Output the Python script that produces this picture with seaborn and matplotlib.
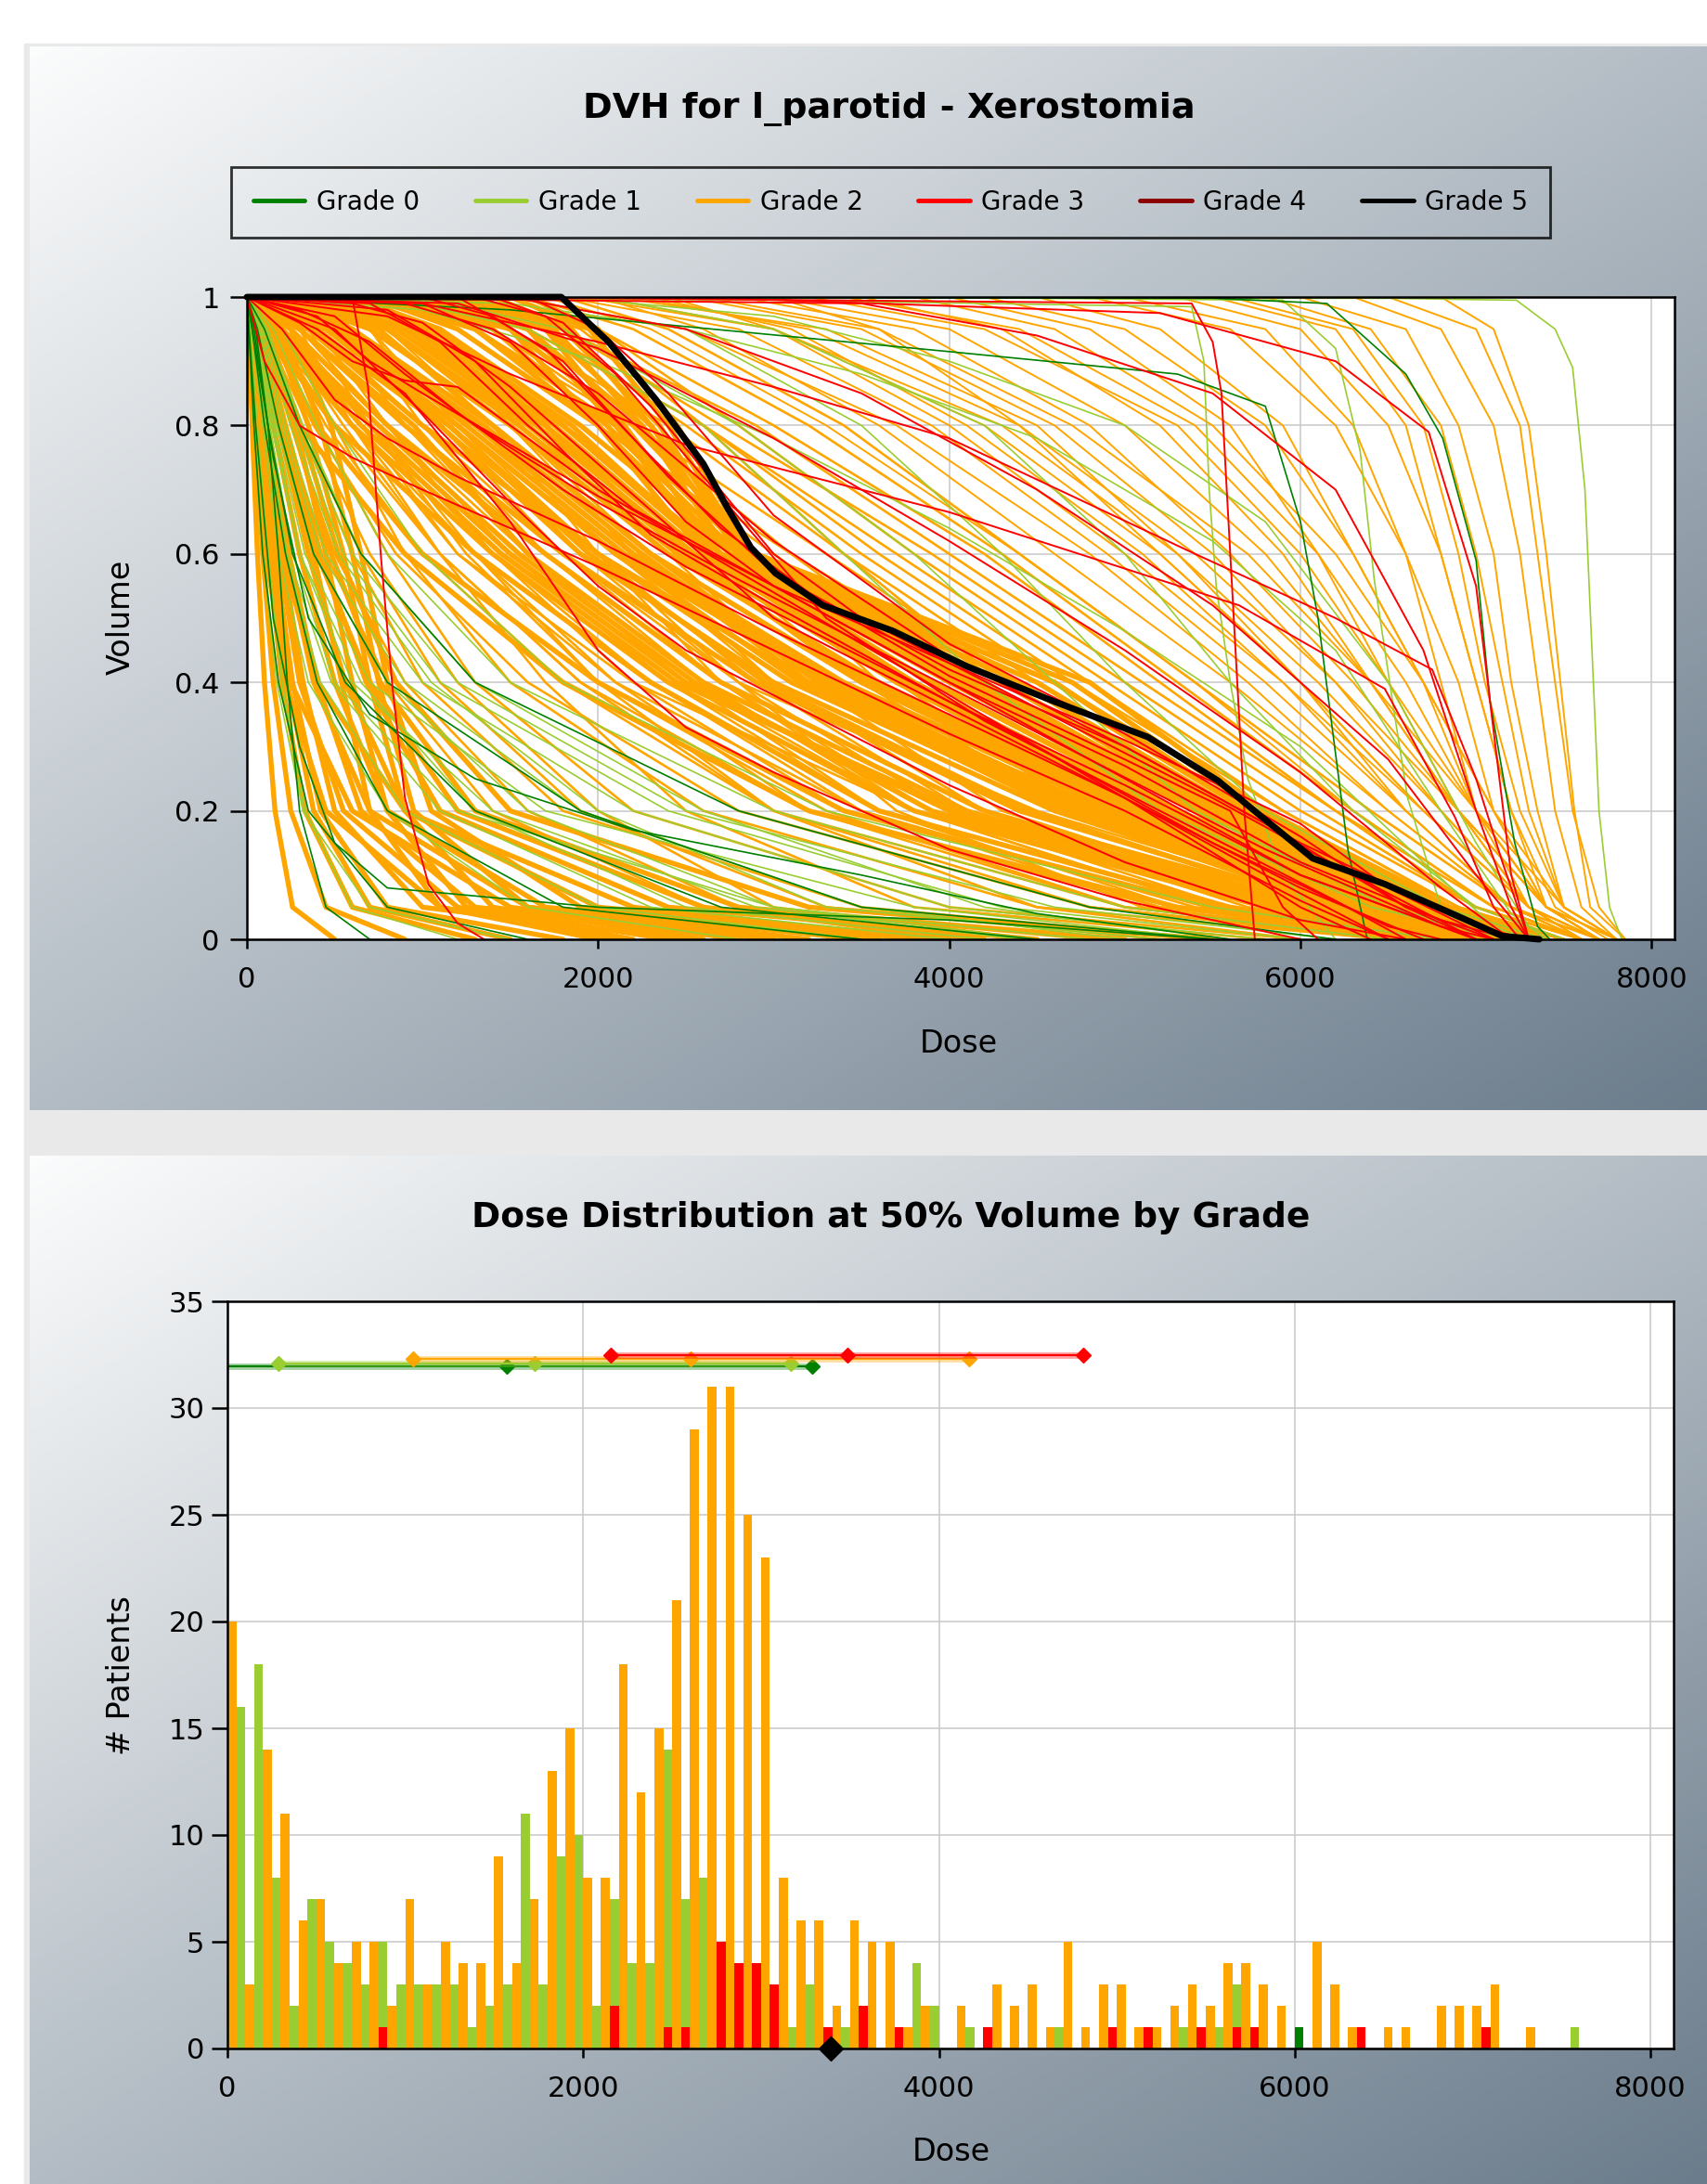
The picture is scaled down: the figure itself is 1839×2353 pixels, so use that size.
import numpy as np
import pandas as pd
import matplotlib
matplotlib.use('Agg')
import matplotlib.pyplot as plt
from matplotlib.lines import Line2D
from matplotlib.patches import Rectangle
from matplotlib.colors import LinearSegmentedColormap
import seaborn as sns

# ---------------- data ----------------
grades = ['Grade 0', 'Grade 1', 'Grade 2', 'Grade 3', 'Grade 4', 'Grade 5']
grade_colors = ['green', 'yellowgreen', 'orange', 'red', 'darkred', 'black']

# most DVH curves are read as the dose at which volume falls to these levels
LEVELS = [1.0, 0.95, 0.8, 0.6, 0.4, 0.2, 0.05, 0.0]

# grade 2: early steep curves and the packed band under the grade 5 curve
grade2_dense_rows = [
    [0, 10, 30, 60, 100, 160, 260, 500],
    [0, 15, 45, 90, 150, 250, 450, 900],
    [0, 20, 60, 120, 200, 330, 600, 1300],
    [0, 25, 80, 160, 260, 420, 800, 1800],
    [0, 30, 100, 200, 320, 500, 1000, 2500],
    [0, 40, 120, 240, 400, 650, 1300, 3000],
    [0, 50, 150, 300, 500, 800, 1700, 3500],
    [0, 20, 70, 140, 230, 380, 700, 1500],
    [0, 60, 180, 350, 560, 900, 2000, 4000],
    [0, 80, 220, 420, 680, 1100, 2400, 4500],
    [0, 100, 260, 480, 760, 1300, 2800, 5000],
    [0, 30, 90, 180, 300, 550, 1200, 2200],
    [0, 120, 300, 520, 850, 1500, 3200, 5500],
    [0, 15, 50, 110, 220, 450, 1100, 2000],
    [0, 40, 110, 220, 380, 700, 1600, 3000],
    [0, 60, 200, 400, 700, 1200, 2600, 4200],
    [0, 10, 40, 100, 250, 600, 1500, 2800],
    [0, 25, 90, 200, 400, 900, 2200, 3800],
    [0, 150, 350, 550, 700, 900, 1400, 2600],
    [0, 200, 420, 600, 750, 950, 1600, 3200],
    [0, 90, 280, 450, 600, 800, 1250, 2400],
    [0, 250, 480, 650, 800, 1050, 1900, 3600],
    [0, 50, 200, 380, 540, 700, 1100, 2100],
    [0, 200, 700, 1500, 2500, 4000, 6000, 7000],
    [0, 300, 900, 1800, 2900, 4400, 6200, 7100],
    [100, 500, 1200, 2100, 3300, 4800, 6400, 7200],
    [200, 700, 1500, 2400, 3600, 5100, 6500, 7200],
    [400, 900, 1700, 2600, 3900, 5300, 6600, 7300],
    [600, 1100, 1900, 2800, 4200, 5500, 6700, 7300],
    [800, 1300, 2100, 2850, 4500, 5700, 6800, 7300],
    [1000, 1500, 2200, 2900, 4700, 5750, 6800, 7400],
    [0, 400, 1100, 1900, 3000, 4600, 6300, 7100],
    [300, 800, 1600, 2500, 3700, 5200, 6500, 7200],
    [0, 250, 800, 1700, 2700, 4200, 6100, 7000],
    [500, 1000, 1800, 2700, 4000, 5400, 6600, 7300],
    [0, 150, 600, 1400, 2400, 3800, 5800, 6900],
    [200, 600, 1300, 2200, 3400, 5000, 6400, 7200],
    [700, 1200, 2000, 2750, 4300, 5600, 6700, 7300],
    [0, 350, 1000, 2000, 3100, 4700, 6300, 7100],
    [100, 450, 1150, 2000, 3200, 4900, 6450, 7150],
    [0, 100, 500, 1300, 2300, 3600, 5600, 6800],
    [300, 750, 1400, 2300, 3500, 5000, 6500, 7200],
    [900, 1400, 2050, 2800, 4400, 5650, 6750, 7350],
    [0, 300, 950, 1600, 2600, 4100, 6000, 7000],
    [400, 850, 1650, 2550, 3800, 5250, 6550, 7250],
    [0, 200, 750, 1550, 2550, 3900, 5900, 6950],
    [600, 1050, 1850, 2650, 4100, 5450, 6650, 7300],
    [0, 120, 400, 1000, 2000, 3400, 5500, 6800],
    [0, 60, 300, 900, 1800, 3200, 5300, 6700],
    [150, 550, 1250, 2150, 3350, 4950, 6350, 7150],
    [0, 180, 650, 1450, 2450, 4050, 6050, 7000],
    [0, 500, 1300, 2200, 3200, 4700, 6300, 7100],
    [300, 900, 1700, 2500, 3500, 5000, 6450, 7200],
    [0, 600, 1400, 2300, 3300, 4850, 6350, 7150],
    [500, 1100, 1800, 2650, 3900, 5300, 6600, 7250],
    [1100, 1600, 2250, 2850, 4600, 5700, 6800, 7350],
    [200, 800, 1550, 2450, 3550, 5050, 6450, 7200],
    [0, 450, 1200, 2100, 3150, 4650, 6250, 7100],
    [700, 1300, 2000, 2700, 4150, 5500, 6700, 7300],
    [1300, 1700, 2300, 2900, 4800, 5800, 6850, 7400],
    [0, 550, 1350, 2250, 3250, 4750, 6300, 7150],
    [0, 350, 1150, 1950, 2950, 4450, 6150, 7050],
    [250, 950, 1750, 2600, 3750, 5150, 6500, 7200],
    [1200, 1700, 2150, 2700, 3900, 5300, 6600, 7300],
    [1400, 1850, 2300, 2800, 4200, 5500, 6700, 7300],
    [1500, 1950, 2400, 2850, 4400, 5600, 6750, 7350],
    [1000, 1600, 2100, 2650, 3800, 5200, 6550, 7250],
    [1600, 2000, 2450, 2880, 4600, 5700, 6800, 7400],
    [800, 1500, 2000, 2600, 3700, 5100, 6500, 7250],
    [1100, 1750, 2250, 2750, 4050, 5400, 6650, 7300],
    [1300, 1800, 2350, 2820, 4300, 5550, 6700, 7350],
]

# grade 2: concave curves of the lower left and the long diagonals
grade2_mid_rows = [
    [0, 100, 300, 600, 1000, 1800, 3500, 5500],
    [0, 150, 400, 800, 1300, 2200, 4000, 6000],
    [0, 200, 500, 900, 1500, 2600, 4500, 6500],
    [0, 150, 450, 1000, 1800, 3000, 5000, 6800],
    [100, 300, 600, 1100, 1900, 3200, 5200, 7000],
    [0, 250, 700, 1300, 2000, 3000, 4500, 6000],
    [200, 400, 800, 1400, 2200, 3400, 5500, 7200],
    [0, 100, 350, 700, 1200, 2000, 3000, 4500],
    [0, 300, 800, 1500, 2400, 3600, 5600, 7300],
    [300, 500, 900, 1600, 2500, 3800, 5800, 7400],
    [0, 200, 600, 1200, 2200, 3800, 6000, 7300],
    [0, 80, 250, 500, 900, 1600, 2800, 4800],
    [0, 120, 380, 850, 1600, 2800, 4800, 6600],
    [400, 600, 1000, 1700, 2700, 4200, 6200, 7400],
    [0, 180, 550, 1100, 1700, 2500, 3800, 5800],
    [0, 60, 200, 450, 800, 1400, 2600, 4000],
    [200, 350, 700, 1250, 2000, 3300, 5000, 6700],
    [500, 700, 1100, 1800, 2800, 4500, 6300, 7400],
    [0, 90, 300, 650, 1100, 1900, 3300, 5200],
    [100, 250, 650, 1200, 2100, 3500, 5400, 7000],
    [0, 150, 500, 1100, 1900, 3000, 4800, 6500],
    [0, 200, 700, 1400, 2300, 3500, 5200, 6800],
    [0, 300, 900, 1700, 2600, 3800, 5500, 7000],
    [0, 100, 600, 1300, 2100, 3200, 5000, 6700],
    [100, 400, 1000, 1800, 2700, 3900, 5600, 7000],
    [0, 250, 800, 1600, 2500, 3600, 5300, 6900],
    [0, 350, 1100, 2000, 2900, 4100, 5800, 7100],
    [200, 500, 1200, 2000, 2800, 3700, 5100, 6600],
    [300, 800, 1500, 2300, 3300, 4600, 6200, 7200],
    [500, 1000, 1800, 2700, 3800, 5000, 6500, 7300],
    [800, 1200, 2000, 3000, 4000, 5300, 6600, 7400],
    [1000, 1400, 2200, 3300, 4400, 5600, 6800, 7500],
    [600, 1100, 1900, 2800, 3600, 4800, 6400, 7300],
    [1200, 1700, 2500, 3500, 4600, 5800, 6900, 7500],
    [400, 900, 1600, 2400, 3200, 4300, 6000, 7200],
    [1500, 2000, 2800, 3800, 4900, 6000, 7000, 7600],
    [700, 1000, 1500, 2200, 3000, 4200, 5900, 7100],
    [900, 1300, 2100, 2900, 3700, 4800, 6300, 7300],
    [1100, 1600, 2600, 3700, 4800, 5900, 6900, 7500],
    [200, 600, 1300, 2100, 3000, 4200, 5800, 7100],
    [1300, 1800, 2700, 3900, 5000, 6100, 7000, 7600],
    [800, 1500, 2400, 3400, 4500, 5700, 6800, 7400],
    [1000, 1800, 2900, 4000, 5100, 6200, 7100, 7600],
    [600, 1300, 2200, 3100, 4100, 5400, 6700, 7400],
    [1600, 2200, 3200, 4300, 5300, 6300, 7100, 7600],
    [300, 700, 1200, 1900, 2800, 4000, 5700, 7000],
    [1800, 2400, 3400, 4400, 5400, 6400, 7200, 7700],
    [500, 800, 1400, 2000, 2700, 3800, 5500, 6900],
    [1200, 2000, 3000, 4200, 5200, 6200, 7000, 7500],
    [900, 1600, 2600, 3600, 4700, 5900, 6900, 7500],
    [700, 1200, 2000, 3100, 4300, 5500, 6700, 7400],
    [1400, 1900, 2600, 3400, 4300, 5500, 6800, 7500],
    [400, 1000, 1700, 2600, 3500, 4700, 6200, 7200],
]

# grade 2: the thinner curves of the upper right
grade2_sparse_rows = [
    [2000, 3000, 4200, 5200, 6000, 6700, 7300, 7700],
    [2500, 3500, 4600, 5500, 6200, 6800, 7300, 7700],
    [3000, 4000, 5000, 5800, 6400, 6900, 7400, 7700],
    [2200, 3200, 4400, 5400, 6200, 6900, 7400, 7800],
    [1800, 2800, 3900, 4900, 5800, 6600, 7200, 7600],
    [3500, 4300, 5200, 5900, 6400, 6900, 7300, 7600],
    [2800, 3800, 4800, 5600, 6300, 6900, 7400, 7800],
    [2000, 2600, 3600, 4600, 5600, 6500, 7200, 7600],
    [4000, 4800, 5600, 6100, 6500, 6900, 7300, 7600],
    [1500, 2500, 3700, 4800, 5700, 6500, 7200, 7600],
    [3200, 4200, 5300, 6000, 6500, 7000, 7400, 7800],
    [2400, 3000, 4000, 5000, 5900, 6700, 7300, 7700],
    [4500, 5200, 5900, 6300, 6700, 7000, 7400, 7700],
    [2600, 3600, 4700, 5700, 6400, 7000, 7500, 7800],
    [1700, 2300, 3300, 4400, 5400, 6300, 7100, 7600],
    [3800, 4600, 5500, 6200, 6700, 7100, 7500, 7800],
    [2100, 3300, 4500, 5300, 6000, 6600, 7200, 7600],
    [3000, 3600, 4400, 5200, 6000, 6700, 7300, 7700],
    [1900, 3000, 4300, 5300, 6100, 6800, 7300, 7700],
    [3400, 4400, 5400, 6100, 6600, 7000, 7400, 7700],
    [2300, 3100, 4100, 5100, 5900, 6600, 7200, 7600],
    [4200, 5000, 5800, 6300, 6700, 7100, 7400, 7700],
    [5000, 5800, 6300, 6600, 6800, 7000, 7300, 7600],
    [5500, 6200, 6600, 6800, 7000, 7200, 7400, 7700],
    [6000, 6600, 6900, 7100, 7200, 7350, 7500, 7800],
    [5800, 6400, 6800, 7000, 7150, 7300, 7500, 7800],
    [6300, 6800, 7100, 7250, 7350, 7450, 7600, 7800],
    [4800, 5600, 6200, 6600, 6900, 7100, 7400, 7700],
    [6500, 7000, 7250, 7350, 7450, 7550, 7700, 7850],
    [5300, 6000, 6500, 6800, 7000, 7200, 7450, 7750],
    [6800, 7100, 7300, 7400, 7480, 7560, 7650, 7850],
    [5600, 6300, 6700, 6900, 7050, 7250, 7500, 7800],
]

grade1_rows = [
    [0, 20, 60, 120, 200, 330, 600, 1200],
    [0, 30, 90, 180, 350, 800, 1600, 2800],
    [0, 50, 130, 260, 500, 1200, 3000, 4800],
    [0, 60, 160, 330, 700, 1700, 3800, 5500],
    [0, 40, 110, 230, 480, 1100, 2300, 4000],
    [0, 80, 220, 450, 1000, 2200, 4000, 5800],
    [0, 70, 200, 420, 900, 1900, 3500, 5000],
    [0, 60, 170, 380, 800, 1600, 3000, 4500],
    [0, 120, 300, 600, 1200, 2500, 4600, 6200],
    [0, 30, 100, 220, 420, 900, 2000, 3500],
    [0, 100, 280, 550, 1100, 2400, 4300, 6000],
    [0, 50, 150, 300, 650, 1300, 2500, 4200],
    [0, 150, 400, 800, 1500, 3000, 5000, 6500],
    [0, 10, 40, 90, 170, 320, 700, 1500],
    [0, 90, 250, 520, 1050, 2000, 3300, 5200],
    [0, 200, 500, 1000, 1800, 3300, 5500, 6800],
    [0, 45, 140, 300, 600, 1400, 2900, 4400],
    [0, 110, 320, 650, 1300, 2600, 4200, 5600],
    [1000, 1800, 2800, 3800, 4600, 5400, 6500, 7200],
    [1500, 2500, 3500, 4300, 5000, 5800, 6800, 7400],
    [2000, 3000, 4200, 5000, 5600, 6300, 7000, 7500],
    [800, 1600, 2600, 3400, 4200, 5200, 6400, 7200],
]
grade1_extra = [
    [(0, 1), (6500, 0.998), (7230, 0.995), (7450, 0.95), (7550, 0.89), (7620, 0.7),
     (7660, 0.45), (7700, 0.2), (7760, 0.05), (7830, 0)],
    [(0, 1), (3000, 0.995), (5380, 0.985), (5450, 0.9), (5480, 0.7), (5520, 0.55),
     (5600, 0.4), (5700, 0.25), (5900, 0.1), (6200, 0)],
    [(0, 1), (4000, 0.999), (5900, 0.995), (6200, 0.92), (6340, 0.76), (6420, 0.56),
     (6530, 0.36), (6610, 0.22), (6800, 0.05), (7000, 0)],
    [(0, 1), (1500, 0.99), (2500, 0.95), (3500, 0.88), (4500, 0.78), (5500, 0.62),
     (6200, 0.45), (6800, 0.2), (7200, 0.04), (7400, 0)],
    [(0, 1), (1000, 0.98), (2000, 0.9), (3000, 0.78), (4000, 0.64), (5000, 0.48),
     (6000, 0.3), (6700, 0.12), (7100, 0.02), (7300, 0)],
    [(0, 1), (2000, 0.995), (3000, 0.97), (4000, 0.9), (5000, 0.8), (5800, 0.65),
     (6500, 0.4), (7000, 0.15), (7300, 0.02), (7400, 0)],
]

grade0_rows = [
    [0, 30, 100, 220, 400, 800, 1800, 3500],
    [0, 60, 180, 380, 800, 1900, 3500, 5500],
    [0, 40, 120, 260, 560, 1300, 2700, 4500],
    [0, 100, 300, 650, 1300, 2800, 4800, 6200],
    [0, 10, 40, 90, 180, 350, 800, 1600],
]
grade0_extra = [
    [(0, 1), (1500, 0.98), (4000, 0.915), (5300, 0.88), (5800, 0.83), (6000, 0.65),
     (6100, 0.5), (6270, 0.14), (6380, 0)],
    [(0, 1), (5500, 0.998), (6150, 0.99), (6600, 0.88), (6810, 0.78), (7000, 0.59),
     (7080, 0.37), (7220, 0.15), (7350, 0.02), (7420, 0)],
    [(0, 1), (50, 0.95), (120, 0.8), (180, 0.6), (230, 0.4), (300, 0.2), (450, 0.05), (700, 0)],
    [(0, 1), (50, 0.8), (150, 0.5), (300, 0.3), (500, 0.15), (800, 0.08), (2000, 0.05),
     (4000, 0.03), (5500, 0)],
    [(0, 1), (150, 0.75), (350, 0.5), (700, 0.35), (1300, 0.25), (2200, 0.17), (3500, 0.1),
     (4500, 0.04), (5600, 0)],
]

grade3_curves = [
    [(0, 1), (1000, 0.99), (1500, 0.93), (2000, 0.8), (2500, 0.65), (3000, 0.55), (4000, 0.4),
     (5000, 0.27), (6000, 0.12), (6800, 0.03), (7200, 0)],
    [(0, 1), (800, 0.98), (1300, 0.9), (1800, 0.76), (2300, 0.63), (3000, 0.52), (4000, 0.37),
     (5000, 0.24), (6000, 0.1), (7000, 0)],
    [(0, 1), (1200, 1), (1700, 0.92), (2200, 0.78), (2700, 0.64), (3200, 0.54), (4000, 0.42),
     (5000, 0.3), (5800, 0.18), (6600, 0.05), (7100, 0)],
    [(0, 1), (400, 0.97), (700, 0.9), (1000, 0.85), (1500, 0.77), (2000, 0.69), (3000, 0.55),
     (4000, 0.4), (5000, 0.25), (6000, 0.1), (7000, 0)],
    [(0, 1), (200, 0.95), (500, 0.84), (800, 0.78), (1200, 0.72), (2000, 0.62), (3000, 0.48),
     (4000, 0.35), (5000, 0.22), (6000, 0.08), (6700, 0)],
    [(0, 1), (1600, 1), (2000, 0.95), (2400, 0.85), (3000, 0.66), (4000, 0.46), (5000, 0.32),
     (6000, 0.16), (6600, 0.05), (7000, 0)],
    [(0, 1), (900, 0.99), (1400, 0.95), (2000, 0.85), (3000, 0.62), (4000, 0.44), (5000, 0.3),
     (6000, 0.15), (7000, 0.02), (7300, 0)],
    [(0, 1), (600, 0.99), (1000, 0.96), (1500, 0.86), (2000, 0.74), (2500, 0.62), (3000, 0.5),
     (4000, 0.36), (5000, 0.22), (5800, 0.1), (6500, 0)],
    [(0, 1), (1400, 1), (1800, 0.96), (2300, 0.83), (3000, 0.6), (3500, 0.5), (4500, 0.36),
     (5500, 0.22), (6300, 0.1), (7000, 0)],
    [(0, 1), (300, 0.98), (700, 0.93), (1200, 0.82), (1800, 0.7), (2500, 0.58), (3500, 0.44),
     (4500, 0.3), (5500, 0.15), (6500, 0.02), (6800, 0)],
    [(0, 1), (1000, 1), (1400, 0.97), (1800, 0.9), (2400, 0.72), (3000, 0.57), (4000, 0.41),
     (5000, 0.28), (5600, 0.2), (5900, 0.05), (6100, 0)],
    [(0, 1), (700, 0.99), (1100, 0.93), (1600, 0.8), (2200, 0.67), (3000, 0.55), (4000, 0.43),
     (5000, 0.31), (6000, 0.18), (6500, 0.08), (7100, 0)],
    [(0, 1), (1200, 0.99), (2000, 0.92), (3000, 0.78), (4000, 0.62), (5000, 0.45), (6000, 0.26),
     (6800, 0.08), (7200, 0)],
    [(0, 1), (1500, 1), (2500, 0.95), (3500, 0.85), (4500, 0.7), (5500, 0.52), (6500, 0.28),
     (7000, 0.1), (7300, 0)],
    [(0, 1), (100, 0.9), (300, 0.8), (600, 0.75), (1000, 0.7), (2000, 0.58), (3000, 0.45),
     (4000, 0.32), (5000, 0.2), (6000, 0.06), (6500, 0)],
    [(0, 1), (500, 0.97), (900, 0.88), (1300, 0.8), (2000, 0.68), (2800, 0.56), (3800, 0.42),
     (4800, 0.28), (5800, 0.14), (6800, 0.02), (7100, 0)],
    [(0, 1), (1300, 1), (1700, 0.97), (2100, 0.88), (2600, 0.72), (3300, 0.5), (4200, 0.34),
     (5200, 0.2), (6200, 0.06), (6600, 0)],
    [(0, 1), (300, 0.96), (600, 0.9), (900, 0.87), (1200, 0.86), (1500, 0.8), (2000, 0.7),
     (3000, 0.54), (4000, 0.38), (5000, 0.22), (6000, 0.05), (6400, 0)],
    [(0, 1), (400, 0.95), (900, 0.85), (1500, 0.65), (2000, 0.45), (2500, 0.33), (3000, 0.26),
     (4000, 0.14), (5000, 0.06), (6000, 0)],
    [(0, 1), (500, 0.95), (1000, 0.82), (1500, 0.68), (2000, 0.55), (2500, 0.45), (3000, 0.38),
     (4000, 0.24), (5000, 0.12), (6000, 0.03), (6600, 0)],
    [(0, 1), (3500, 0.99), (4500, 0.94), (5500, 0.85), (6200, 0.7), (6700, 0.45), (7000, 0.2),
     (7200, 0.05), (7300, 0)],
    [(0, 1), (1000, 0.99), (2000, 0.93), (3000, 0.86), (4000, 0.78), (5400, 0.6), (6200, 0.5),
     (6750, 0.42), (7000, 0.25), (7150, 0.12), (7300, 0)],
    [(0, 1), (800, 0.97), (1500, 0.88), (2500, 0.77), (4000, 0.665), (5650, 0.52), (6480, 0.39),
     (6880, 0.19), (7100, 0.05), (7250, 0)],
    [(0, 1), (2500, 1), (5200, 0.975), (6200, 0.9), (6730, 0.79), (7000, 0.55), (7115, 0.29),
     (7200, 0.1), (7300, 0)],
    [(0, 1), (2000, 0.998), (5380, 0.99), (5500, 0.93), (5550, 0.85), (5620, 0.5), (5680, 0.2),
     (5740, 0)],
    [(0, 1), (600, 1), (690, 0.86), (765, 0.59), (830, 0.39), (900, 0.22), (1035, 0.085),
     (1200, 0.025), (1350, 0)],
]

grade5_curve = [(0, 1), (1790, 1), (2060, 0.93), (2330, 0.84), (2600, 0.74), (2740, 0.67),
                (2870, 0.61), (3010, 0.57), (3280, 0.52), (3680, 0.48), (4100, 0.425),
                (4600, 0.37), (5130, 0.315), (5530, 0.247), (5800, 0.186), (6070, 0.126),
                (6480, 0.086), (6880, 0.038), (7150, 0.005), (7360, 0)]

# histogram of dose at 50% volume, patients per 100-unit dose bin
bin_start = np.arange(0, 8000, 100)
grade2_counts = [20, 3, 14, 11, 6, 7, 4, 5, 5, 2,
                 7, 3, 5, 4, 4, 9, 4, 7, 13, 15,
                 8, 8, 18, 12, 15, 21, 29, 31, 31, 25,
                 23, 8, 6, 6, 2, 6, 5, 5, 1, 2,
                 0, 2, 0, 3, 2, 3, 1, 5, 1, 3,
                 3, 1, 1, 2, 3, 2, 4, 4, 3, 2,
                 0, 5, 3, 1, 0, 1, 1, 0, 2, 2,
                 2, 3, 0, 1, 0, 0, 0, 0, 0, 0]
grade1_counts = [16, 18, 8, 2, 7, 5, 4, 3, 5, 3,
                 3, 3, 3, 1, 2, 3, 11, 3, 9, 10,
                 2, 7, 4, 4, 14, 7, 8, 0, 0, 0,
                 0, 1, 3, 0, 1, 0, 0, 0, 4, 2,
                 0, 1, 0, 0, 0, 0, 1, 0, 0, 0,
                 0, 0, 0, 1, 0, 1, 3, 0, 0, 0,
                 0, 0, 0, 0, 0, 0, 0, 0, 0, 0,
                 0, 0, 0, 0, 0, 1, 0, 0, 0, 0]
grade3_counts = [0, 0, 0, 0, 0, 0, 0, 0, 1, 0,
                 0, 0, 0, 0, 0, 0, 0, 0, 0, 0,
                 0, 2, 0, 0, 1, 1, 0, 5, 4, 4,
                 3, 0, 0, 1, 0, 2, 0, 1, 0, 0,
                 0, 0, 1, 0, 0, 0, 0, 0, 0, 1,
                 0, 1, 0, 0, 1, 0, 1, 1, 0, 0,
                 0, 0, 0, 1, 0, 0, 0, 0, 0, 0,
                 1, 0, 0, 0, 0, 0, 0, 0, 0, 0]
grade0_counts = [0] * 60 + [1] + [0] * 19

# mean - sd, mean, mean + sd of the 50% dose per grade
range_grades = ['Grade 0', 'Grade 1', 'Grade 2', 'Grade 3']
range_doses = [[-150, 1570, 3290], [285, 1725, 3165], [1045, 2605, 4170], [2155, 3485, 4810]]
range_levels = [31.95, 32.1, 32.3, 32.5]
grade5_dose50 = 3390

# ---------------- build long-form table ----------------


def from_levels(rows):
    return [[(0, 1.0)] + list(zip(r, LEVELS)) for r in rows]


curve_sets = [
    ('Grade 2', 'sparse', from_levels(grade2_sparse_rows)),
    ('Grade 2', 'mid', from_levels(grade2_mid_rows)),
    ('Grade 2', 'dense', from_levels(grade2_dense_rows)),
    ('Grade 1', 'thin', from_levels(grade1_rows) + grade1_extra),
    ('Grade 0', 'thin', from_levels(grade0_rows) + grade0_extra),
    ('Grade 3', 'red', grade3_curves),
    ('Grade 5', 'black', [grade5_curve]),
]
records = []
pid = 0
for grade, layer, curves in curve_sets:
    for curve in curves:
        for d, v in curve:
            records.append((pid, grade, layer, d, v))
        pid += 1
dvh = pd.DataFrame(records, columns=['patient', 'grade', 'layer', 'dose', 'volume'])
color_of = dict(zip(grades, grade_colors))

# ---------------- figure ----------------
W, H = 1839, 2353
sns.set_theme(style='white')
plt.rcParams['font.family'] = ['DejaVu Sans']
plt.rcParams['text.color'] = 'black'

fig = plt.figure(figsize=(W / 100, H / 100), dpi=100, facecolor='white')

# panel backgrounds (gradient)
bg = fig.add_axes([0, 0, 1, 1], zorder=-10)
bg.axis('off')
bg.add_patch(Rectangle((26, 47), W - 26, H - 47, color='#e9e9e9', zorder=0))
gx, gy = np.meshgrid(np.linspace(0, 1, 300), np.linspace(0, 1, 300))
grad = (gx + gy) / 2
cmap = LinearSegmentedColormap.from_list('panel', ['#fbfcfc', '#6b7c8c'])
bg.imshow(grad, cmap=cmap, extent=(32, W, 1196, 50), aspect='auto', zorder=1)
bg.imshow(grad, cmap=cmap, extent=(32, W, H, 1245), aspect='auto', zorder=1)
bg.set_xlim(0, W)
bg.set_ylim(H, 0)


def style_axes(ax):
    ax.set_facecolor('white')
    for s in ax.spines.values():
        s.set_color('black')
        s.set_linewidth(1.8)
    ax.grid(True, color='#c8c8c8', linewidth=1.1)
    ax.set_axisbelow(True)
    ax.set_xlabel('')
    ax.set_ylabel('')


# ---- top: DVH curves ----
ax1 = fig.add_axes([266 / W, 1 - 1012 / H, (1804 - 266) / W, 692 / H])
layer_width = {'thin': 1.2, 'sparse': 1.4, 'mid': 1.9, 'dense': 3.9, 'red': 1.4, 'black': 5.0}
for grade, layer, _ in curve_sets:
    part = dvh[(dvh['grade'] == grade) & (dvh['layer'] == layer)]
    sns.lineplot(data=part, x='dose', y='volume', units='patient', estimator=None, sort=False,
                 color=color_of[grade], linewidth=layer_width[layer], legend=False, ax=ax1)
ax1.lines[-1].set_clip_on(False)
ax1.set_xlim(0, 8130)
ax1.set_ylim(0, 1)
ax1.set_xticks([0, 2000, 4000, 6000, 8000])
ax1.set_yticks([0, 0.2, 0.4, 0.6, 0.8, 1.0])
ax1.set_yticklabels(['0', '0.2', '0.4', '0.6', '0.8', '1'])
style_axes(ax1)
ax1.tick_params(axis='x', length=7, width=1.8, pad=14, labelsize=22, colors='black', direction='out', bottom=True)
ax1.tick_params(axis='y', length=13, width=1.8, pad=8, labelsize=22, colors='black', direction='out', left=True)

fig.text(958 / W, 1 - 117 / H, 'DVH for l_parotid - Xerostomia', ha='center', va='center',
         fontsize=27.5, fontweight='bold')
fig.text(1033 / W, 1 - 1125 / H, 'Dose', ha='center', va='center', fontsize=24)
fig.text(130 / W, 1 - 665 / H, 'Volume', ha='center', va='center', fontsize=24, rotation=90)

handles = [Line2D([], [], color=c, lw=3.5) for c in grade_colors]
leg = fig.legend(handles, grades, loc='center', ncol=6, mode='expand',
                 bbox_to_anchor=(249 / W, 1 - 256 / H, 1421 / W, 76 / H), borderaxespad=0,
                 fontsize=20, handlelength=2.0, handletextpad=0.45, borderpad=0.85,
                 frameon=True, fancybox=False, facecolor='none', edgecolor='black')
leg.get_frame().set_linewidth(2)

# ---- bottom: histogram ----
ax2 = fig.add_axes([245 / W, 1 - 2207 / H, (1803 - 245) / W, 805 / H])
ax2.bar(bin_start, grade2_counts, width=50, align='edge', color='orange', linewidth=0)
ax2.bar(bin_start + 50, grade1_counts, width=50, align='edge', color='yellowgreen', linewidth=0)
ax2.bar(bin_start + 50, grade3_counts, width=50, align='edge', color='red', linewidth=0)
ax2.bar(bin_start, grade0_counts, width=50, align='edge', color='green', linewidth=0)

for g, doses, level in zip(range_grades, range_doses, range_levels):
    c = color_of[g]
    lo = max(doses[0], 0)
    ax2.plot([lo, doses[2]], [level, level], color=c, lw=5, alpha=0.35, solid_capstyle='butt')
    ax2.plot([lo, doses[2]], [level, level], color=c, lw=1.6)
    ax2.plot(doses, [level] * 3, ls='none', marker='D', ms=8, color=c, mec=c)
ax2.plot([grade5_dose50], [0], ls='none', marker='D', ms=13, color='black', clip_on=False, zorder=5)

ax2.set_xlim(0, 8130)
ax2.set_ylim(0, 35)
ax2.set_xticks([0, 2000, 4000, 6000, 8000])
ax2.set_yticks([0, 5, 10, 15, 20, 25, 30, 35])
style_axes(ax2)
ax2.tick_params(axis='x', length=7, width=1.8, pad=14, labelsize=22, colors='black', direction='out', bottom=True)
ax2.tick_params(axis='y', length=12, width=1.8, pad=6, labelsize=22, colors='black', direction='out', left=True)

fig.text(960 / W, 1 - 1312 / H, 'Dose Distribution at 50% Volume by Grade', ha='center', va='center',
         fontsize=27, fontweight='bold')
fig.text(1025 / W, 1 - 2319 / H, 'Dose', ha='center', va='center', fontsize=24)
fig.text(130 / W, 1 - 1805 / H, '# Patients', ha='center', va='center', fontsize=24, rotation=90)

fig.savefig('out.png', dpi=100, facecolor='white')
